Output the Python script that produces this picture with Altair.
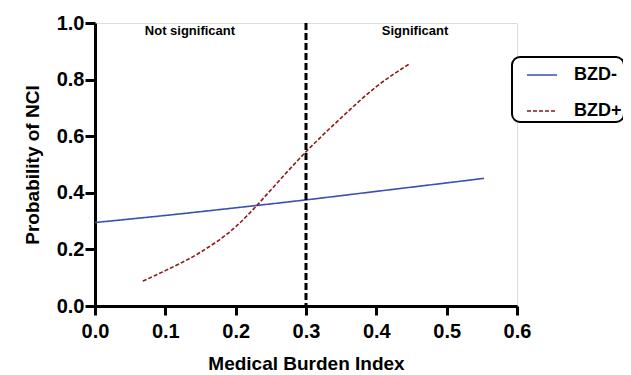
import altair as alt
import pandas as pd

# BZD- curve (Medical Burden Index vs probability)
neg_x = [0.0, 0.1, 0.2, 0.3, 0.4, 0.5, 0.553]
neg_y = [0.295, 0.320, 0.347, 0.375, 0.405, 0.435, 0.451]

# BZD+ curve
pos_x = [0.068, 0.1, 0.15, 0.2, 0.23, 0.25, 0.3, 0.35, 0.4, 0.448]
pos_y = [0.088, 0.125, 0.19, 0.28, 0.355, 0.41, 0.545, 0.665, 0.775, 0.857]

threshold = 0.3
ann_text = ["Not significant", "Significant"]
ann_x = [0.135, 0.455]
ann_y = [0.972, 0.972]

df = pd.concat([
    pd.DataFrame({"mbi": neg_x, "p": neg_y, "group": "BZD-"}),
    pd.DataFrame({"mbi": pos_x, "p": pos_y, "group": "BZD+"}),
])

FONT = "Liberation Sans"

xscale = alt.Scale(domain=[0, 0.6], nice=False, zero=False)
yscale = alt.Scale(domain=[0, 1.0], nice=False)

xaxis = alt.Axis(title="Medical Burden Index", values=[0, 0.1, 0.2, 0.3, 0.4, 0.5, 0.6],
                 format=".1f", grid=False, domainWidth=3, domainColor="black",
                 tickWidth=3, tickColor="black", tickSize=9,
                 labelFont=FONT, labelFontSize=20, labelFontWeight="bold", labelColor="black",
                 labelPadding=6, titleFont=FONT, titleFontSize=19, titleFontWeight="bold",
                 titleColor="black", titlePadding=13, labelFlush=False)
yaxis = alt.Axis(title="Probability of NCI", values=[0, 0.2, 0.4, 0.6, 0.8, 1.0],
                 format=".1f", grid=False, domainWidth=3, domainColor="black",
                 tickWidth=3, tickColor="black", tickSize=10,
                 labelFont=FONT, labelFontSize=20, labelFontWeight="bold", labelColor="black",
                 labelPadding=1, titleFont=FONT, titleFontSize=19, titleFontWeight="bold",
                 titleColor="black", titlePadding=14, labelFlush=False)

lines = alt.Chart(df).mark_line(strokeWidth=1.6, interpolate="monotone").encode(
    x=alt.X("mbi:Q", scale=xscale, axis=xaxis),
    y=alt.Y("p:Q", scale=yscale, axis=yaxis),
    color=alt.Color("group:N",
                    scale=alt.Scale(domain=["BZD-", "BZD+"], range=["#3a4eb3", "#8b1a1a"]),
                    legend=alt.Legend(title=None, orient="none", legendX=417, legendY=34,
                                      labelFont=FONT, labelFontSize=18, labelFontWeight="bold",
                                      labelColor="black", symbolType="stroke", symbolSize=900,
                                      symbolStrokeWidth=1.6, rowPadding=11, labelOffset=16,
                                      symbolOffset=12,
                                      strokeColor="black", cornerRadius=8,
                                      padding=2, fillColor="white")),
    strokeDash=alt.StrokeDash("group:N",
                              scale=alt.Scale(domain=["BZD-", "BZD+"], range=[[1, 0], [4, 2]]),
                              legend=None),
)

vline = alt.Chart(pd.DataFrame({"x": [threshold]})).mark_rule(
    color="black", strokeWidth=3, strokeDash=[7, 3]).encode(
    x=alt.X("x:Q", scale=xscale), y=alt.value(0), y2=alt.value(283))

ann = alt.Chart(pd.DataFrame({"t": ann_text, "x": ann_x, "y": ann_y})).mark_text(
    font=FONT, fontSize=13, fontWeight="bold", color="black", baseline="middle").encode(
    x=alt.X("x:Q", scale=xscale), y=alt.Y("y:Q", scale=yscale), text="t:N")

chart = alt.layer(lines, vline, ann).properties(
    width=422, height=283,
    autosize=alt.AutoSizeParams(type="none"),
    padding={"left": 87, "top": 15, "right": 106, "bottom": 70},
).configure_view(stroke=None).configure(background="white").configure_legend(strokeWidth=2)

chart.save("out.html", embed_options={"renderer": "svg", "actions": False})
